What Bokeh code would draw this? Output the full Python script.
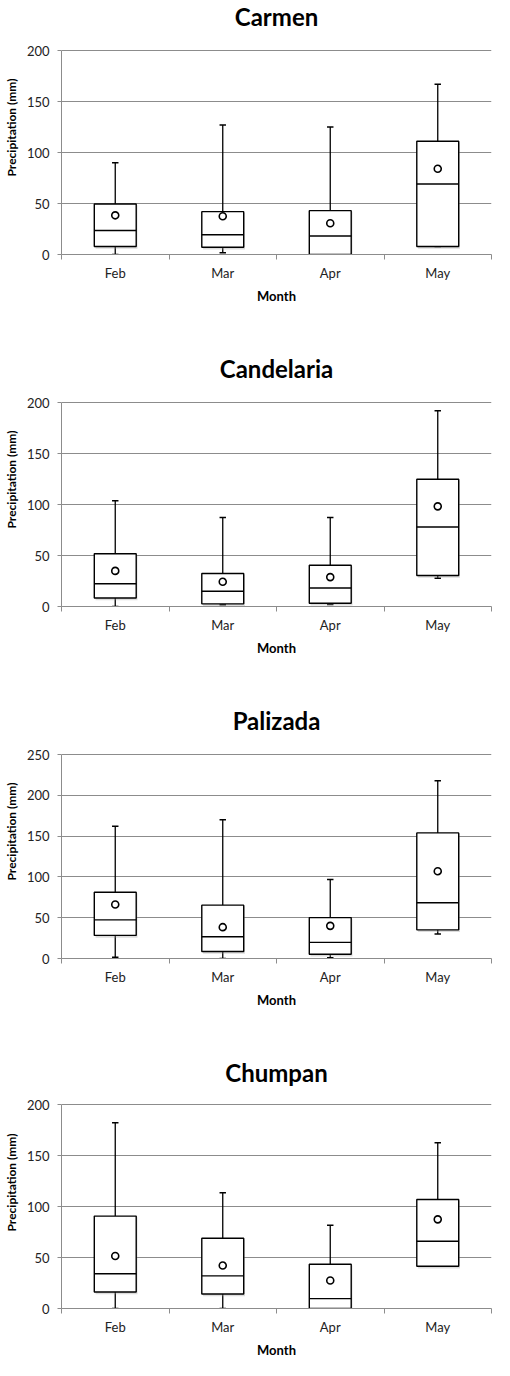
from bokeh.plotting import figure
from bokeh.layouts import column
from bokeh.models import Range1d, FixedTicker, CustomJSTickFormatter, ColumnDataSource, Label
from bokeh.embed import file_html
from bokeh.resources import INLINE

months = ["Feb", "Mar", "Apr", "May"]
stations = ["Carmen", "Candelaria", "Palizada", "Chumpan"]
y_tops = [200, 200, 250, 200]

carmen_min = [0, 1.6, 0, 7.8]
carmen_q1 = [7.8, 7.1, 0, 7.8]
carmen_median = [23.6, 19.4, 18.1, 69.1]
carmen_q3 = [49.5, 42, 43, 111]
carmen_max = [90, 127, 125, 167]
carmen_mean = [38.4, 37.5, 30.7, 84]

candelaria_min = [0, 1.6, 1.9, 27.8]
candelaria_q1 = [8.4, 2.6, 3.2, 30.4]
candelaria_median = [22.3, 14.9, 18.1, 77.9]
candelaria_q3 = [51.7, 32.3, 40.4, 124.7]
candelaria_max = [103.7, 87.2, 87.2, 191.9]
candelaria_mean = [34.9, 24.2, 28.8, 98.2]

palizada_min = [1.6, 0, 0.8, 29.9]
palizada_q1 = [28.3, 8.5, 5.3, 35.1]
palizada_median = [47.3, 26.7, 19.8, 68.3]
palizada_q3 = [81.2, 65.4, 50.1, 153.9]
palizada_max = [162, 170, 96.9, 217.7]
palizada_mean = [66.2, 38.4, 40, 107]

chumpan_min = [0, 0, 0, 41.4]
chumpan_q1 = [16.2, 14.2, 0, 41.4]
chumpan_median = [34, 32, 9.7, 66]
chumpan_q3 = [90.6, 68.9, 43.4, 106.8]
chumpan_max = [182.2, 113.6, 81.6, 162.5]
chumpan_mean = [51.5, 42.1, 27.5, 87.4]

data = [
    (carmen_min, carmen_q1, carmen_median, carmen_q3, carmen_max, carmen_mean),
    (candelaria_min, candelaria_q1, candelaria_median, candelaria_q3, candelaria_max, candelaria_mean),
    (palizada_min, palizada_q1, palizada_median, palizada_q3, palizada_max, palizada_mean),
    (chumpan_min, chumpan_q1, chumpan_median, chumpan_q3, chumpan_max, chumpan_mean),
]

GRID = "#8c8c8c"
FONT = "Lato"
BOX_W = 0.39
CAP_W = 0.06
PLOT_H = 204      # px of the gridded plotting area
TITLE_Y = 16      # px from figure top to title centre
BOTTOMS = [98, 98, 98, 52]
HEIGHTS = [352, 352, 352, 304]


def make(idx):
    name = stations[idx]
    mn, q1, med, q3, mx, mean = data[idx]
    h = HEIGHTS[idx]
    frame_h = h - BOTTOMS[idx]
    y_top = y_tops[idx]
    y_end = y_top * frame_h / PLOT_H
    p = figure(width=494, height=h, x_range=Range1d(0, 4), y_range=Range1d(0, y_end),
               output_backend="svg", toolbar_location=None,
               min_border_left=56, min_border_right=3,
               min_border_top=0, min_border_bottom=BOTTOMS[idx])
    p.outline_line_color = None
    p.background_fill_color = "white"
    p.border_fill_color = "white"

    x = [i + 0.5 for i in range(len(months))]
    k = y_top / 200
    src = ColumnDataSource(dict(
        x=x, mn=mn, q1=q1, med=med, q3=q3, mx=mx, mean=mean,
        left=[v - BOX_W / 2 for v in x], right=[v + BOX_W / 2 for v in x],
        cl=[v - CAP_W / 2 for v in x], cr=[v + CAP_W / 2 for v in x],
        sl=[v - BOX_W / 2 + 0.012 for v in x], sr=[v + BOX_W / 2 + 0.012 for v in x],
        sb=[v - 2.2 * k for v in q1],
        st=[v - 1.2 * k for v in q3],
    ))

    # whiskers
    p.segment(x0="x", y0="q3", x1="x", y1="mx", source=src, line_color="black", line_width=1.3)
    p.segment(x0="x", y0="q1", x1="x", y1="mn", source=src, line_color="black", line_width=1.3)
    p.segment(x0="cl", y0="mx", x1="cr", y1="mx", source=src, line_color="black", line_width=1.5)
    p.segment(x0="cl", y0="mn", x1="cr", y1="mn", source=src, line_color="black", line_width=1.5)
    # shadow
    p.quad(left="sl", right="sr", bottom="sb", top="st", source=src,
           fill_color="#9a9a9a", fill_alpha=0.35, line_color=None)
    # box
    p.quad(left="left", right="right", bottom="q1", top="q3", source=src,
           fill_color="white", line_color="black", line_width=1.4)
    p.segment(x0="left", y0="med", x1="right", y1="med", source=src, line_color="black", line_width=1.4)
    # mean
    p.scatter(x="x", y="mean", source=src, marker="circle", size=7,
              fill_color="white", line_color="black", line_width=1.6)

    # title (inside the extended frame, above the top gridline)
    p.add_layout(Label(x=2, y=frame_h - TITLE_Y, x_units="data", y_units="screen", text=name,
                       text_font=FONT, text_font_size="24px", text_font_style="bold",
                       text_color="black", text_align="center", text_baseline="middle"))

    # grid
    p.xgrid.grid_line_color = None
    p.ygrid.grid_line_color = GRID
    p.ygrid.grid_line_width = 1

    # y axis
    p.yaxis.ticker = FixedTicker(ticks=list(range(0, y_top + 1, 50)))
    p.yaxis.bounds = (0, y_top)
    p.yaxis.axis_line_color = GRID
    p.yaxis.major_tick_line_color = GRID
    p.yaxis.major_tick_out = 4
    p.yaxis.major_tick_in = 0
    p.yaxis.minor_tick_line_color = None
    p.yaxis.major_label_text_font = FONT
    p.yaxis.major_label_text_font_size = "13px"
    p.yaxis.major_label_text_color = "#222222"
    p.yaxis.major_label_standoff = 8
    p.yaxis.axis_label = "Precipitation (mm)"
    p.yaxis.axis_label_text_font = FONT
    p.yaxis.axis_label_text_font_size = "12px"
    p.yaxis.axis_label_text_font_style = "bold"
    p.yaxis.axis_label_text_color = "black"
    p.yaxis.axis_label_standoff = 5

    # x axis
    p.xaxis.ticker = FixedTicker(ticks=x, minor_ticks=list(range(0, len(months) + 1)))
    p.xaxis.formatter = CustomJSTickFormatter(args=dict(labels=months),
                                              code="return labels[Math.floor(tick)];")
    p.xaxis.axis_line_color = GRID
    p.xaxis.major_tick_line_color = None
    p.xaxis.major_tick_out = 0
    p.xaxis.major_tick_in = 0
    p.xaxis.minor_tick_line_color = GRID
    p.xaxis.minor_tick_out = 5
    p.xaxis.minor_tick_in = 0
    p.xaxis.major_label_text_font = FONT
    p.xaxis.major_label_text_font_size = "13px"
    p.xaxis.major_label_text_color = "#222222"
    p.xaxis.major_label_standoff = 5
    p.xaxis.axis_label = "Month"
    p.xaxis.axis_label_text_font = FONT
    p.xaxis.axis_label_text_font_size = "13px"
    p.xaxis.axis_label_text_font_style = "bold"
    p.xaxis.axis_label_text_color = "black"
    p.xaxis.axis_label_standoff = 4
    return p


layout = column(*[make(i) for i in range(len(stations))], spacing=0)
open("out.html", "w").write(file_html(layout, INLINE))
